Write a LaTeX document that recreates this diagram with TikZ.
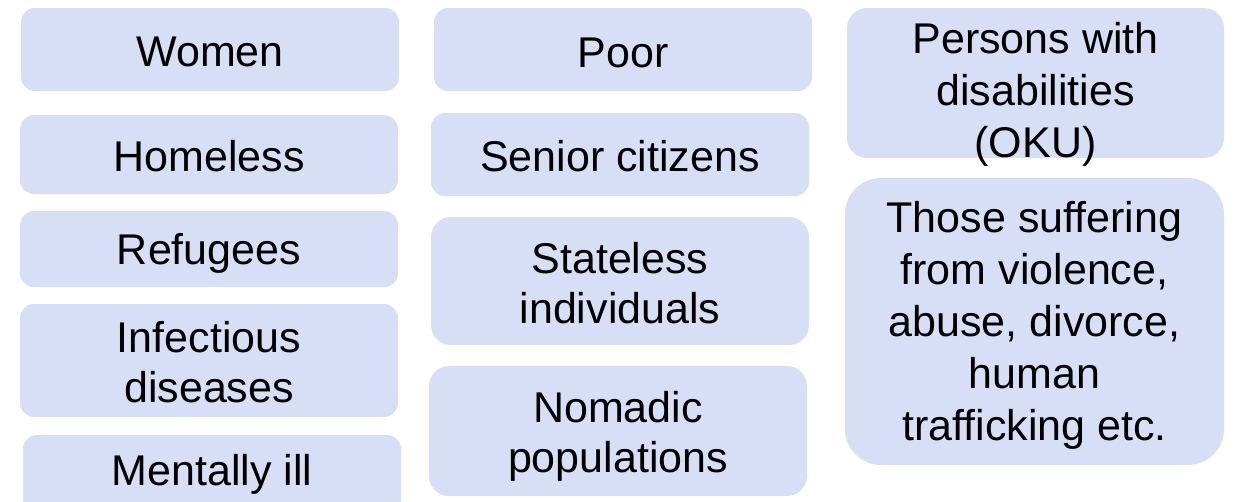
\documentclass[tikz,border=0pt]{standalone}
\usepackage{fontspec}
\setmainfont{Liberation Sans}
\begin{document}
\begin{tikzpicture}[x=1pt,y=-1pt,
  card/.style={fill=cardblue, draw=none, inner sep=0pt, outer sep=0pt,
               rounded corners=#1},
  card/.default=14pt,
  % labels are placed by the baseline of their last line
  label/.style={anchor=base, align=center, inner sep=0pt,
                font=\fontsize{43}{50}\selectfont},
  widelabel/.style={label, font=\fontsize{43}{52}\selectfont}]
\definecolor{cardblue}{RGB}{214,223,245}
\useasboundingbox (0,0) rectangle (1236,501);
\clip (0,0) rectangle (1236,501);

% left column
\node[card, minimum width=378pt, minimum height=83pt]  (women)      at (210,49.5)  {};
\node[card, minimum width=378pt, minimum height=79pt]  (homeless)   at (209,154.5) {};
\node[card, minimum width=378pt, minimum height=76pt]  (refugees)   at (209,249)   {};
\node[card, minimum width=378pt, minimum height=113pt] (infectious) at (209,360.5) {};
\node[card, minimum width=378pt, minimum height=80pt]  (mental)     at (212,475)   {};

% middle column
\node[card, minimum width=378pt, minimum height=83pt]      (poor)      at (623,49.5)  {};
\node[card, minimum width=378pt, minimum height=83pt]      (senior)    at (620,154.5) {};
\node[card=20pt, minimum width=378pt, minimum height=128pt] (stateless) at (620,281)   {};
\node[card=20pt, minimum width=378pt, minimum height=130pt] (nomadic)   at (618,431)   {};

% right column
\node[card=20pt, minimum width=377pt, minimum height=150pt] (persons) at (1035.5,83)    {};
\node[card=36pt, minimum width=379pt, minimum height=287pt] (those)   at (1034.5,321.5) {};

% texts
\node[label] (women-t)      at (210,66)  {Women};
\node[label] (homeless-t)   at (209,171) {Homeless};
\node[label] (refugees-t)   at (209,264) {Refugees};
\node[label] (infectious-t) at (209,402) {Infectious\\diseases};
\node[label] (mental-t)     at (212,485) {Mentally ill};

\node[label] (poor-t)      at (623,67)  {Poor};
\node[label] (senior-t)    at (620,171) {Senior citizens};
\node[label] (stateless-t) at (620,323) {Stateless\\individuals};
\node[label] (nomadic-t)   at (618,472) {Nomadic\\populations};

\node[widelabel] (persons-t) at (1035.5,157) {Persons with\\disabilities\\(OKU)};
\node[widelabel] (those-t)   at (1034.5,440) {Those suffering\\from violence,\\abuse, divorce,\\human\\trafficking etc.};
\end{tikzpicture}
\end{document}
